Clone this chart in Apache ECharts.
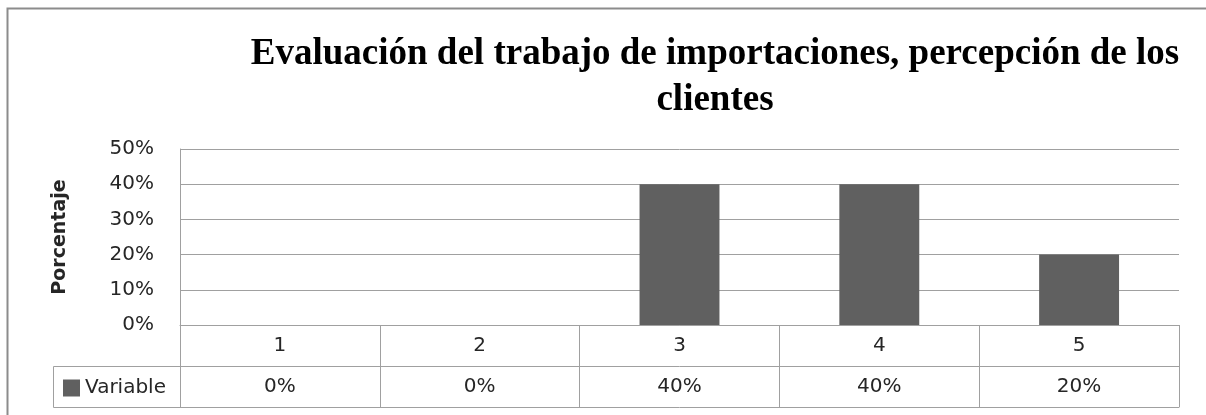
<!DOCTYPE html>
<html>
<head>
<meta charset="utf-8">
<script src="https://cdn.jsdelivr.net/npm/echarts@6/dist/echarts.min.js"></script>
<style>
  html, body { margin: 0; padding: 0; background: #fff; }
  #chart { width: 1206px; height: 415px; }
</style>
</head>
<body>
<div id="chart"></div>
<script>
const titleText = 'Evaluación del trabajo de importaciones, percepción de los\nclientes'
const categories = ['1', '2', '3', '4', '5']
const values = [0, 0, 0.4, 0.4, 0.2]
const seriesName = 'Variable'
const yAxisName = 'Porcentaje'

const lineColor = '#a0a0a0'
const textColor = '#262626'
const barColor = '#606060'
const sans = 'DejaVu Sans'

const pct = v => Math.round(v * 100) + '%'

const chart = echarts.init(document.getElementById('chart'))

const option = {
  backgroundColor: '#fff',
  animation: false,
  title: {
    text: titleText,
    left: 715,
    top: 31,
    textAlign: 'center',
    padding: 0,
    textStyle: {
      fontFamily: 'Liberation Serif',
      fontWeight: 'bold',
      fontSize: 37,
      lineHeight: 46,
      color: '#000',
    },
  },
  legend: {
    data: [seriesName],
    left: 63,
    top: 378,
    padding: 0,
    icon: 'rect',
    itemWidth: 17,
    itemHeight: 17,
    itemGap: 5,
    textStyle: { fontFamily: sans, fontSize: 20, color: textColor },
  },
  grid: { left: 180, right: 27, top: 149, bottom: 90, containLabel: false },
  xAxis: [
    {
      type: 'category',
      data: categories,
      position: 'bottom',
      axisLine: { lineStyle: { color: lineColor, width: 1 } },
      axisTick: { show: true, length: 82, interval: 0, lineStyle: { color: lineColor } },
      axisLabel: {
        margin: 21, verticalAlign: 'middle',
        fontFamily: sans, fontSize: 20, color: textColor,
      },
    },
    {
      type: 'category',
      data: categories,
      position: 'bottom',
      offset: 41,
      axisLine: { lineStyle: { color: lineColor, width: 1 } },
      axisTick: { show: false },
      axisLabel: {
        margin: 21, verticalAlign: 'middle',
        fontFamily: sans, fontSize: 20, color: textColor,
        formatter: (v, i) => pct(values[i]),
      },
    },
    {
      type: 'category',
      data: categories,
      position: 'bottom',
      offset: 82,
      axisLine: { lineStyle: { color: lineColor, width: 1 } },
      axisTick: { show: false },
      axisLabel: { show: false },
    },
  ],
  yAxis: {
    type: 'value',
    min: 0,
    max: 0.5,
    interval: 0.1,
    name: yAxisName,
    nameLocation: 'middle',
    nameRotate: 90,
    nameGap: 110,
    nameTextStyle: { fontFamily: sans, fontWeight: 'bold', fontSize: 19, color: textColor },
    axisLine: { show: true, lineStyle: { color: lineColor } },
    axisTick: { show: false },
    axisLabel: { margin: 26, fontFamily: sans, fontSize: 20, color: textColor, formatter: pct },
    splitLine: { lineStyle: { color: lineColor } },
  },
  series: [
    {
      name: seriesName,
      type: 'bar',
      data: values,
      barCategoryGap: '60%',
      itemStyle: { color: barColor },
    },
  ],
  graphic: [
    // outer chart frame
    { type: 'rect', shape: { x: 7.5, y: 8.5, width: 1300, height: 600 }, style: { fill: null, stroke: '#8c8c8c', lineWidth: 2 }, silent: true },
    // legend cell of the data table
    { type: 'polyline', shape: { points: [[180, 366.5], [53.5, 366.5], [53.5, 407.5], [180, 407.5]] }, style: { fill: null, stroke: lineColor, lineWidth: 1 }, silent: true },
  ],
}

chart.setOption(option)
window.addEventListener('resize', () => chart.resize())
</script>
</body>
</html>
